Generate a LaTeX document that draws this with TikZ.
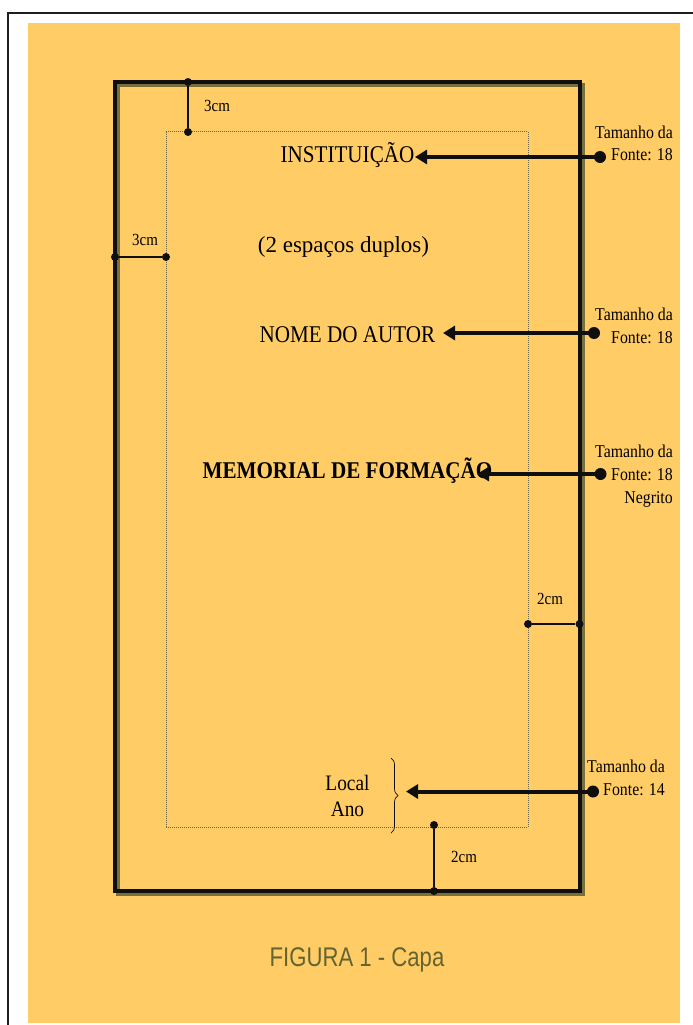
\documentclass[tikz,border=0pt]{standalone}
\usepackage{fontspec}
\setmainfont[FakeStretch=0.88]{Liberation Serif}
\newfontfamily\largafont{Liberation Serif}
\newfontfamily\legfont[FakeStretch=0.82]{Liberation Sans}
\usetikzlibrary{arrows.meta,calc,decorations.pathreplacing}
\definecolor{ink}{RGB}{15,15,15}
\definecolor{fundo}{RGB}{255,204,102}
\definecolor{sombra}{RGB}{120,112,60}
\definecolor{pont}{RGB}{110,100,70}
\definecolor{legenda}{RGB}{100,100,50}
\definecolor{moldura}{RGB}{30,30,30}

\begin{document}
\begin{tikzpicture}[x=1pt,y=-1pt,
  titulo/.style={font=\fontsize{24}{28}\selectfont, anchor=base, inner sep=0pt},
  tam/.style={font=\fontsize{18}{22.7}\selectfont, align=right, anchor=base east, inner sep=0pt},
  cota/.style={font=\fontsize{17}{20}\selectfont, anchor=base west, inner sep=0pt},
  seta/.style={line width=4pt, ink, -{Triangle[length=12pt,width=14pt]}},
  medida/.style={line width=1.1pt, ink},
  ponto/.style={circle, fill=ink, inner sep=0pt, minimum size=12pt},
  mponto/.style={circle, fill=ink, inner sep=0pt, minimum size=8pt},
]
\useasboundingbox (0,0) rectangle (693,1025);

% ---- moldura e fundo ----
\fill[white] (0,0) rectangle (693,1025);
\draw[moldura, line width=2pt] (7.5,1025) -- (7.5,13) -- (693,13);
\fill[fundo] (28,23) rectangle (680,1023);

% ---- folha e margens ----
\coordinate (FolhaNO) at (115,81.5);
\coordinate (FolhaSE) at (579.5,891);
\draw[sombra, line width=4pt] ($(FolhaNO)+(3,3)$) rectangle ($(FolhaSE)+(3,3)$);
\draw[ink, line width=4pt] (FolhaNO) rectangle (FolhaSE);
\coordinate (MargNO) at (166,131.5);
\coordinate (MargSE) at (528,827);
\draw[pont, line width=0.7pt, dash pattern=on 0.8pt off 1.2pt] (MargNO) rectangle (MargSE);

% ---- cotas das margens ----
\node[mponto] (CSa) at (188,82) {};
\node[mponto] (CSb) at (188,132) {};
\draw[medida] (CSa) -- (CSb);
\node[cota] (CSt) at (204,111) {3cm};

\node[mponto] (CEa) at (115,257) {};
\node[mponto] (CEb) at (166,257) {};
\draw[medida] (CEa) -- (CEb);
\node[cota] (CEt) at (132,245) {3cm};

\node[mponto] (CDa) at (528,624) {};
\node[mponto] (CDb) at (579.5,624) {};
\draw[medida] (CDa) -- (CDb);
\node[cota] (CDt) at (537,604) {2cm};

\node[mponto] (CIa) at (434,825) {};
\node[mponto] (CIb) at (434,891) {};
\draw[medida] (CIa) -- (CIb);
\node[cota] (CIt) at (451,862) {2cm};

% ---- textos da capa ----
\node[titulo] (INST) at (347.5,162) {INSTITUIÇÃO};
\node[font=\largafont\fontsize{23}{28}\selectfont, anchor=base, inner sep=0pt] (ESP) at (343.5,252) {(2 espaços duplos)};
\node[titulo] (AUT) at (347.5,342.7) {NOME DO AUTOR};
\node[titulo, font=\bfseries\fontsize{24}{28}\selectfont] (MEM) at (347.5,478) {MEMORIAL DE FORMAÇÃO};
\node[font=\fontsize{22}{25.3}\selectfont, align=center, anchor=base, inner sep=0pt] (LOC) at (347.5,816) {Local\\Ano};
\draw[ink, line width=0.7pt, decorate, decoration={brace, amplitude=7pt}] (391,758) -- (391,833);

% ---- setas e tamanhos ----
\node[ponto] (D1) at (600,157) {};
\coordinate (A1) at (415,157);
\draw[seta] (D1.center) -- (A1);
\node[tam] (T1) at (673,160.7) {Tamanho da\\Fonte: 18};

\node[ponto] (D2) at (594,333) {};
\coordinate (A2) at (443,333);
\draw[seta] (D2.center) -- (A2);
\node[tam] (T2) at (673,343.3) {Tamanho da\\Fonte: 18};

\node[ponto] (D3) at (600.5,474) {};
\coordinate (A3) at (477,474);
\draw[seta] (D3.center) -- (A3);
\node[tam] (T3) at (673,503) {Tamanho da\\Fonte: 18\\Negrito};

\node[ponto] (D4) at (593,791.5) {};
\coordinate (A4) at (406,791.5);
\draw[seta] (D4.center) -- (A4);
\node[tam] (T4) at (665,795) {Tamanho da\\Fonte: 14};

% ---- legenda ----
\node[font=\legfont\fontsize{27}{32}\selectfont, text=legenda, anchor=base, inner sep=0pt] (FIG) at (357,966.7) {FIGURA 1 - Capa};

\end{tikzpicture}
\end{document}
